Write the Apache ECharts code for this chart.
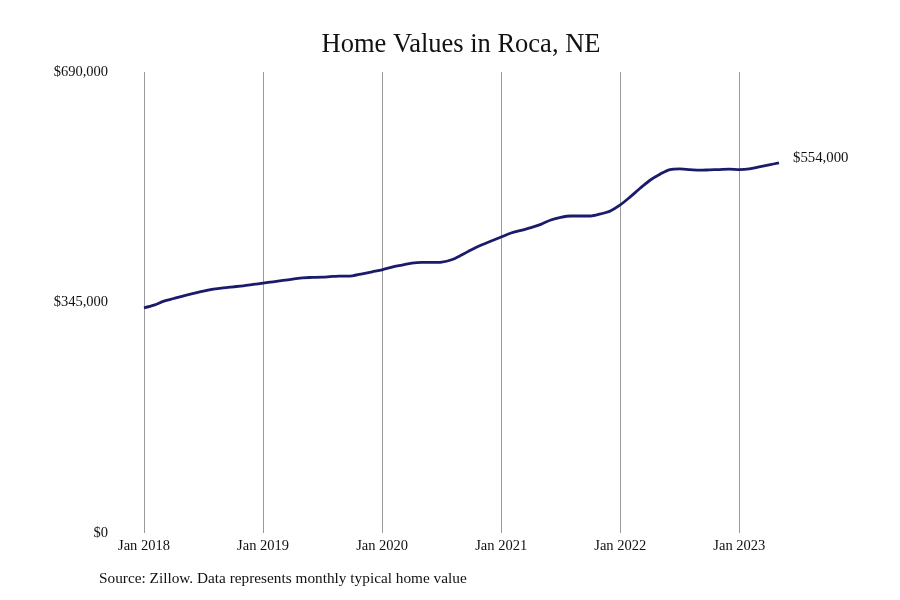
<!DOCTYPE html>
<html>
<head>
<meta charset="utf-8">
<script src="https://cdn.jsdelivr.net/npm/echarts@6/dist/echarts.min.js"></script>
<style>
  html,body{margin:0;padding:0;background:#fff;}
  #main{width:900px;height:600px;}
</style>
</head>
<body>
<div id="main"></div>
<script>
// months Jan 2018 .. May 2023
var years=['2018','2019','2020','2021','2022','2023'];
var monthNames=['Jan','Feb','Mar','Apr','May','Jun','Jul','Aug','Sep','Oct','Nov','Dec'];
var months=[];
for(let y=0;y<years.length;y++){
    for(let m=0;m<12;m++){
        if(y==5&&m>4) break;
        months.push(monthNames[m]+' '+years[y]);
    }
}
// typical home value
var values=[
    337000,341000,347000,351000,355000,358500,362000,365000,367000,368500,370000,372000,
    374000,376000,378000,380000,382000,382500,383000,384000,384500,385000,388000,391000,
    394000,398000,401000,404000,405000,405000,405500,409000,416000,424000,431000,437000,
    443000,449000,453000,457000,462000,468500,472500,474500,474500,474500,477500,482000,
    491000,503000,516000,528000,537000,544000,545000,544000,543000,543500,544000,544500,
    544000,545000,548000,551000,554000
];
var yTicks=[0,345000,690000];

var font='Liberation Serif';
function money(v){
    return '$'+v.toString().replace(/\B(?=(\d{3})+(?!\d))/g,',');
}

var myChart=echarts.init(document.getElementById('main'));
var option={
    backgroundColor:'#fff',
    title:{
        text:'Home Values in Roca, NE',
        left:456,
        top:27,
        textAlign:'center',
        textStyle:{fontFamily:font,fontSize:26.5,fontWeight:'normal',color:'#111'}
    },
    graphic:[{
        type:'text',
        left:99,
        top:571,
        style:{text:'Source: Zillow. Data represents monthly typical home value',font:'15.3px "Liberation Serif"',fill:'#111'}
    }],
    grid:{left:144,right:121,top:72,bottom:67},
    xAxis:{
        type:'category',
        boundaryGap:false,
        data:months,
        axisLine:{show:false},
        axisTick:{show:false},
        axisLabel:{
            interval:function(i){return i%12===0;},
            fontFamily:font,fontSize:14.5,color:'#111',margin:6
        },
        splitLine:{
            show:true,
            interval:function(i){return i%12===0;},
            lineStyle:{color:'#9a9a9a',width:1}
        }
    },
    yAxis:{
        type:'value',
        min:yTicks[0],
        max:yTicks[2],
        interval:yTicks[1],
        axisLine:{show:false},
        axisTick:{show:false},
        splitLine:{show:false},
        axisLabel:{
            formatter:money,
            fontFamily:font,fontSize:14.5,color:'#111',margin:36
        }
    },
    series:[{
        type:'line',
        data:values,
        smooth:0.3,
        symbol:'none',
        lineStyle:{color:'#1b1b6b',width:2.8},
        endLabel:{
            show:true,
            formatter:function(p){return money(p.value);},
            fontFamily:font,fontSize:14.8,color:'#111',distance:14,offset:[0,-5]
        }
    }]
};
myChart.setOption(option);
</script>
</body>
</html>
